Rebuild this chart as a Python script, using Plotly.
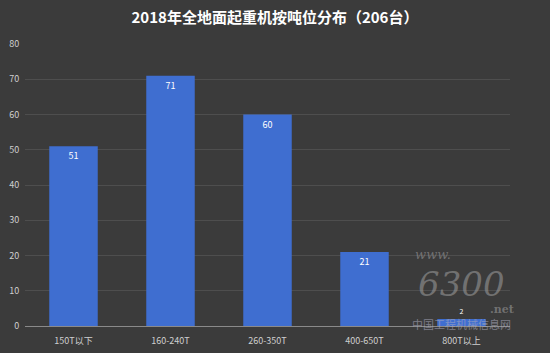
import plotly.graph_objects as go

categories = ["150T以下", "160-240T", "260-350T", "400-650T", "800T以上"]
values = [51, 71, 60, 21, 2]
y_ticks = [0, 10, 20, 30, 40, 50, 60, 70, 80]

fig = go.Figure()
fig.add_trace(go.Bar(
    x=categories, y=values,
    text=[str(v) for v in values],
    textposition=["inside", "inside", "inside", "inside", "outside"],
    insidetextanchor="end",
    textangle=0,
    textfont=dict(color="white", size=9, family="Noto Sans CJK SC"),
    outsidetextfont=dict(color="white", size=7, family="Noto Sans CJK SC"),
    marker=dict(color="#3F6ED0", line=dict(width=0)),
    cliponaxis=False,
))

fig.update_layout(
    width=550, height=353,
    margin=dict(l=25, r=40, t=44, b=27),
    paper_bgcolor="#3b3b3b",
    plot_bgcolor="rgba(0,0,0,0)",
    bargap=0.5,
    showlegend=False,
    title=dict(text="<b>2018年全地面起重机按吨位分布（206台）</b>",
               x=0.5, xanchor="center", y=0.95, yanchor="middle",
               font=dict(color="white", size=15, family="Noto Sans CJK SC")),
    xaxis=dict(showgrid=False, showline=True, linecolor="#8a8a8a", linewidth=1,
               automargin=False,
               tickfont=dict(color="#cfcfcf", size=9, family="Noto Sans CJK SC"),
               ticks="outside", ticklen=6, tickcolor="rgba(0,0,0,0)"),
    yaxis=dict(range=[0, 80], tickvals=y_ticks, showgrid=True, gridcolor="#4e4e4e",
               gridwidth=1, zeroline=False, ticks="outside", ticklen=3,
               automargin=False,
               tickcolor="rgba(0,0,0,0)",
               tickfont=dict(color="#cfcfcf", size=9, family="Noto Sans CJK SC")),
)

wm = "rgba(150,150,150,0.6)"
fig.add_annotation(text="<i>www.</i>", xref="paper", yref="paper", x=0.841, y=0.255,
                   xanchor="center", yanchor="middle",
                   showarrow=False, font=dict(color=wm, size=13, family="DejaVu Serif"))
fig.add_annotation(text="<i>6300</i>", xref="paper", yref="paper", x=0.90, y=0.15,
                   xanchor="center", yanchor="middle",
                   showarrow=False, font=dict(color=wm, size=34, family="DejaVu Serif"))
fig.add_annotation(text="<b>.net</b>", xref="paper", yref="paper", x=0.985, y=0.058,
                   xanchor="center", yanchor="middle",
                   showarrow=False, font=dict(color=wm, size=11, family="DejaVu Serif"))
fig.add_annotation(text="中国工程机械信息网", xref="paper", yref="paper", x=0.90, y=0.008,
                   xanchor="center", yanchor="middle",
                   showarrow=False, font=dict(color="rgba(170,170,190,0.6)", size=11, family="Noto Sans CJK SC"))

fig.write_html("out.html")
